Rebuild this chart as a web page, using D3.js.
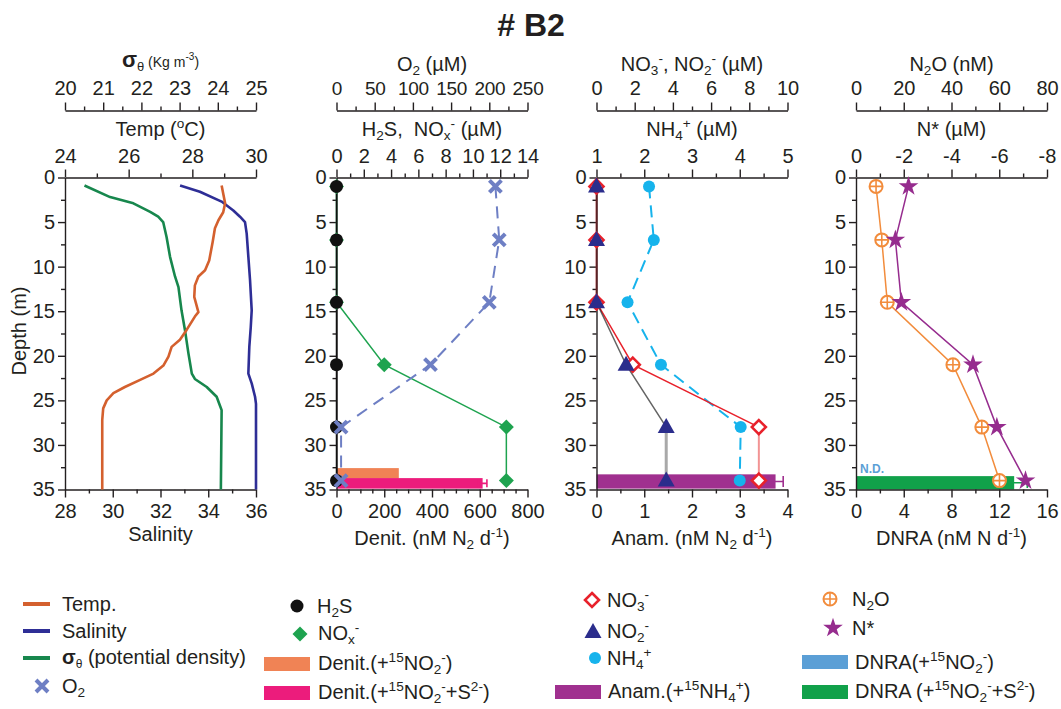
<!DOCTYPE html>
<html>
<head>
<meta charset="utf-8">
<script src="https://cdn.jsdelivr.net/npm/d3@7"></script>
<style>
  html, body { margin: 0; padding: 0; background: #fff; }
  svg { display: block; }
  text { white-space: pre; }
</style>
</head>
<body>
<svg id="chart" width="1061" height="709"></svg>
<script>
// ---- Station B2: water-column profiles ----
// Discrete sampling depths (m)
const depths = [1, 7, 14, 21, 28, 34];

// CTD profiles
const tempDepth = [0.9, 2.9, 3.9, 4.8, 5.7, 7.2, 9.3, 10.4, 11.1, 12.1, 13.4, 15.1, 15.6, 17.1, 18.2, 19.0, 20.1, 21.1, 22.0, 22.7, 23.5, 24.2, 25.0, 25.9, 27.2, 35];
const tempVal   = [28.92, 29.03, 28.97, 28.82, 28.71, 28.64, 28.53, 28.40, 28.19, 28.08, 28.06, 28.19, 28.08, 27.82, 27.61, 27.35, 27.25, 27.09, 26.78, 26.36, 25.88, 25.52, 25.31, 25.20, 25.17, 25.17];
const salDepth  = [0.9, 1.6, 2.7, 3.7, 4.4, 5.0, 6.3, 8.9, 11.5, 14.9, 16.8, 19.0, 22.0, 23.1, 24.6, 25.4, 35];
const salVal    = [32.82, 33.65, 34.56, 35.05, 35.33, 35.54, 35.61, 35.68, 35.75, 35.82, 35.78, 35.72, 35.68, 35.82, 35.96, 36.0, 36.0];
const sigDepth  = [0.9, 2.2, 2.9, 3.85, 4.4, 5.0, 6.7, 8.9, 11.1, 12.3, 14.9, 17.1, 19.7, 22.0, 22.6, 23.5, 24.6, 25.4, 26.1, 35];
const sigVal    = [20.51, 21.18, 21.79, 22.23, 22.44, 22.57, 22.66, 22.75, 22.88, 22.97, 23.05, 23.14, 23.23, 23.32, 23.40, 23.71, 23.97, 24.04, 24.10, 24.08];

// Bottle data
const o2    = [208, 213, 200, 123, 6, 6];          // µM
const h2s   = [0, 0, 0, 0, 0, 0];                  // µM
const nox   = [0, 0, 0, 3.5, 12.45, 12.45];        // µM
const no3   = [0, 0, 0, 1.9, 8.5, 8.5];            // µM
const no2   = [0, 0, 0, 1.55, 3.65, 3.65];         // µM
const nh4   = [2.1, 2.2, 1.65, 2.35, 4.02, 4.0];   // µM
const n2o   = [8.4, 10.8, 13.1, 40.6, 52.7, 60.1]; // nM
const nstar = [-2.2, -1.65, -1.9, -4.9, -5.9, -7.1]; // µM

// Incubation rates at 34 m
const denitRates = [261, 612];   // nM N2 d-1 : +15NO2-, +15NO2- +S2-
const denitErr   = [0, 18];
const anamRate   = [3.75];       // nM N2 d-1 : +15NH4+
const anamErr    = [0.16];
const dnraRate   = [13.25];      // nM N d-1 : +15NO2- +S2- (+15NO2- alone N.D.)
const dnraErr    = [1.1];

// Tick values
const depthTicks = [0, 5, 10, 15, 20, 25, 30, 35];
const sigTicks   = [20, 21, 22, 23, 24, 25];
const tempTicks  = [24, 26, 28, 30];
const salTicks   = [28, 30, 32, 34, 36];
const o2Ticks    = [0, 50, 100, 150, 200, 250];
const h2sTicks   = [0, 2, 4, 6, 8, 10, 12, 14];
const denitTicks = [0, 200, 400, 600, 800];
const nTicks     = [0, 2, 4, 6, 8, 10];
const nh4Ticks   = [1, 2, 3, 4, 5];
const anamTicks  = [0, 1, 2, 3, 4];
const n2oTicks   = [0, 20, 40, 60, 80];
const nstarTicks = [0, -2, -4, -6, -8];
const dnraTicks  = [0, 4, 8, 12, 16];

// ---- layout ----
const FONT = "'Liberation Sans', Arial, Helvetica, sans-serif";
const FS = 20;
const INK = "#231f20";
const svg = d3.select("#chart").attr("font-family", FONT);

const PW = 191;
const lefts = [65, 336.5, 596.5, 856];
const yTop1 = 110.5, yTop = 177.5, yBot = 489.5;
const y = d3.scaleLinear().domain([0, 35]).range([yTop, yBot]);

const C = {
  temp: "#d4602e", sal: "#2e2e96", sig: "#17874d",
  o2: "#6e7fc4", h2s: "#111111", nox: "#1ea34f",
  denitA: "#f08355", denitB: "#ec1c7c",
  no3: "#e8212b", no2: "#2b2d8c", nh4: "#16b3ec", anam: "#a0308f",
  n2o: "#f28c3c", nstar: "#962c8e", dnraA: "#5b9fd6", dnraB: "#11a14a"
};

function range(a, b, s) { const r = []; for (let v = a; v <= b + 1e-9; v += s) r.push(+v.toFixed(6)); return r; }
function minorOf(a, b, s, majors) { return range(a, b, s).filter(v => !majors.some(m => Math.abs(m - v) < 1e-9)); }

// Mixed text with sub/superscripts
function rich(sel, parts, fs) {
  let shift = 0;
  parts.forEach(p => {
    const s = typeof p === "string" ? { t: p } : p;
    let target = 0, size = s.size || fs;
    if (s.sub) { target = fs * 0.22; size = s.size || fs * 0.68; }
    if (s.sup) { target = -fs * 0.42; size = s.size || fs * 0.68; }
    const ts = sel.append("tspan").attr("font-size", size).text(s.t);
    if (target !== shift) ts.attr("dy", target - shift);
    if (s.bold) ts.attr("font-weight", "bold");
    shift = target;
  });
  return sel;
}

function styleAxis(g) {
  g.attr("font-size", FS).attr("font-family", FONT).style("color", INK);
  g.selectAll("path, line").attr("stroke-width", 1.4);
}

function hAxis(scale, yPos, top, majors, minors, pad) {
  const mk = top ? d3.axisTop : d3.axisBottom;
  const g = svg.append("g").attr("transform", `translate(0,${yPos})`)
    .call(mk(scale).tickValues(majors).tickSizeInner(8).tickSizeOuter(0).tickPadding(pad).tickFormat(d => String(d)));
  styleAxis(g);
  const gm = svg.append("g").attr("transform", `translate(0,${yPos})`)
    .call(mk(scale).tickValues(minors).tickSizeInner(4).tickSizeOuter(0).tickFormat(""));
  styleAxis(gm);
  gm.select(".domain").remove();
  return g;
}

function vAxis(xPos) {
  const g = svg.append("g").attr("transform", `translate(${xPos},0)`)
    .call(d3.axisLeft(y).tickValues(depthTicks).tickSizeInner(7).tickSizeOuter(0).tickPadding(3).tickFormat(d => String(d)));
  styleAxis(g);
  const gm = svg.append("g").attr("transform", `translate(${xPos},0)`)
    .call(d3.axisLeft(y).tickValues(minorOf(0, 35, 2.5, depthTicks)).tickSizeInner(4).tickSizeOuter(0).tickFormat(""));
  styleAxis(gm);
  gm.select(".domain").remove();
}

function title(cx, yBase, parts, fs) {
  rich(svg.append("text").attr("x", cx).attr("y", yBase).attr("text-anchor", "middle").attr("fill", INK), parts, fs || FS);
}

// Markers
function marker(g, type, x, yy, color) {
  const m = g.append("g").attr("transform", `translate(${x},${yy})`);
  switch (type) {
    case "dot": m.append("circle").attr("r", 6.5).attr("fill", color); break;
    case "circle": m.append("circle").attr("r", 6).attr("fill", color); break;
    case "diamond": m.append("path").attr("d", "M0,-7.5L7.5,0L0,7.5L-7.5,0Z").attr("fill", color); break;
    case "odiamond": m.append("path").attr("d", "M0,-7L7,0L0,7L-7,0Z").attr("fill", "#fff").attr("stroke", color).attr("stroke-width", 2.6); break;
    case "x": m.append("path").attr("d", "M-6,-6L6,6M-6,6L6,-6").attr("stroke", color).attr("stroke-width", 4).attr("fill", "none"); break;
    case "tri": m.append("path").attr("d", "M0,-9L8.5,6L-8.5,6Z").attr("fill", color); break;
    case "oplus":
      m.append("circle").attr("r", 6.5).attr("fill", "#fff").attr("stroke", color).attr("stroke-width", 2);
      m.append("path").attr("d", "M-6.5,0H6.5M0,-6.5V6.5").attr("stroke", color).attr("stroke-width", 1.6);
      break;
    case "star": m.append("path").attr("d", d3.symbol(d3.symbolStar, 120)()).attr("fill", color); break;
  }
}

function profileLine(xs, vals, dps) {
  return d3.line().x((d, i) => xs(vals[i])).y((d, i) => y(dps[i]))(dps);
}

function bar(xs, v, e, d0, d1, color, capColor) {
  const g = svg.append("g");
  g.append("rect").attr("x", xs(0)).attr("y", y(d0)).attr("width", xs(v) - xs(0)).attr("height", y(d1) - y(d0)).attr("fill", color);
  if (e > 0) {
    const cy = (y(d0) + y(d1)) / 2, h = (y(d1) - y(d0)) * 0.38;
    const x1 = xs(v - e), x2 = xs(v + e);
    g.append("path").attr("d", `M${x1},${cy}H${x2}M${x1},${cy - h}V${cy + h}M${x2},${cy - h}V${cy + h}`)
      .attr("stroke", capColor || color).attr("stroke-width", 1.6).attr("fill", "none");
  }
}

// ---- main title ----
svg.append("text").attr("x", 531).attr("y", 36).attr("text-anchor", "middle")
  .attr("font-size", 32).attr("font-weight", "bold").attr("fill", INK).text("# B2");

// ================= Panel 1: physical properties =================
{
  const L = lefts[0], cx = L + PW / 2;
  const xSig = d3.scaleLinear().domain([20, 25]).range([L, L + PW]);
  const xTemp = d3.scaleLinear().domain([24, 30]).range([L, L + PW]);
  const xSal = d3.scaleLinear().domain([28, 36]).range([L, L + PW]);
  hAxis(xSig, yTop1, true, sigTicks, minorOf(20, 25, 0.5, sigTicks), 7.5);
  hAxis(xTemp, yTop, true, tempTicks, minorOf(24, 30, 1, tempTicks), 7);
  hAxis(xSal, yBot, false, salTicks, minorOf(28, 36, 1, salTicks), 6);
  vAxis(L);

  title(cx, 67, [{ t: "σ", bold: true, size: 22 }, { t: "θ", sub: true, size: 13 }, { t: " (Kg m", size: 14 }, { t: "-3", sup: true, size: 10 }, { t: ")", size: 14 }], 16);
  title(cx, 136, ["Temp (", { t: "o", sup: true }, "C)"]);
  title(cx, 541, ["Salinity"]);

  const g = svg.append("g").attr("fill", "none").attr("stroke-width", 2.6).attr("stroke-linejoin", "round");
  g.append("path").attr("d", profileLine(xSig, sigVal, sigDepth)).attr("stroke", C.sig);
  g.append("path").attr("d", profileLine(xSal, salVal, salDepth)).attr("stroke", C.sal);
  g.append("path").attr("d", profileLine(xTemp, tempVal, tempDepth)).attr("stroke", C.temp);
}

// depth label
svg.append("text").attr("transform", "translate(19,331) rotate(-90)").attr("text-anchor", "middle")
  .attr("dominant-baseline", "central").attr("font-size", FS).attr("fill", INK).text("Depth (m)");

// ================= Panel 2: O2, H2S, NOx, denitrification =================
{
  const L = lefts[1], cx = L + PW / 2;
  const xO2 = d3.scaleLinear().domain([0, 250]).range([L, L + PW]);
  const xS = d3.scaleLinear().domain([0, 14]).range([L, L + PW]);
  const xD = d3.scaleLinear().domain([0, 800]).range([L, L + PW]);

  // rate bars first so profiles sit on top
  const bandD = d3.scaleBand().domain([0, 1]).range([32.6, 34.9]).paddingInner(-0.05);
  bar(xD, denitRates[0], denitErr[0], bandD(0), bandD(0) + bandD.bandwidth(), C.denitA);
  bar(xD, denitRates[1], denitErr[1], bandD(1), bandD(1) + bandD.bandwidth(), C.denitB);

  // O2 labels sit close together; keep them a touch smaller
  hAxis(xO2, yTop1, true, o2Ticks, minorOf(0, 250, 25, o2Ticks), 7.5)
    .selectAll(".tick text").attr("font-size", 19).attr("letter-spacing", -0.3);
  hAxis(xS, yTop, true, h2sTicks, minorOf(0, 14, 1, h2sTicks), 7);
  hAxis(xD, yBot, false, denitTicks, minorOf(0, 800, 50, denitTicks), 6);
  vAxis(L);

  title(cx, 71, ["O", { t: "2", sub: true }, " (µM)"]);
  title(cx, 136, ["H", { t: "2", sub: true }, "S,  NO", { t: "x", sub: true }, { t: "-", sup: true }, " (µM)"]);
  title(cx, 545, ["Denit. (nM N", { t: "2", sub: true }, " d", { t: "-1", sup: true }, ")"]);

  const g = svg.append("g").attr("fill", "none");
  g.append("path").attr("d", profileLine(xS, nox, depths)).attr("stroke", C.nox).attr("stroke-width", 1.5);
  g.append("path").attr("d", profileLine(xS, h2s, depths)).attr("stroke", C.h2s).attr("stroke-width", 1.5);
  g.append("path").attr("d", profileLine(xO2, o2, depths)).attr("stroke", C.o2).attr("stroke-width", 2).attr("stroke-dasharray", "12,8");

  const m = svg.append("g");
  depths.forEach((d, i) => marker(m, "diamond", xS(nox[i]), y(d), C.nox));
  depths.forEach((d, i) => marker(m, "dot", xS(h2s[i]), y(d), C.h2s));
  depths.forEach((d, i) => marker(m, "x", xO2(o2[i]), y(d), C.o2));
}

// ================= Panel 3: NO3, NO2, NH4, anammox =================
{
  const L = lefts[2], cx = L + PW / 2;
  const xN = d3.scaleLinear().domain([0, 10]).range([L, L + PW]);
  const xA = d3.scaleLinear().domain([1, 5]).range([L, L + PW]);
  const xR = d3.scaleLinear().domain([0, 4]).range([L, L + PW]);

  bar(xR, anamRate[0], anamErr[0], 33.3, 34.9, C.anam);

  hAxis(xN, yTop1, true, nTicks, minorOf(0, 10, 1, nTicks), 7.5);
  hAxis(xA, yTop, true, nh4Ticks, minorOf(1, 5, 0.5, nh4Ticks), 7);
  hAxis(xR, yBot, false, anamTicks, minorOf(0, 4, 0.5, anamTicks), 6);
  vAxis(L);

  title(cx, 71, ["NO", { t: "3", sub: true }, { t: "-", sup: true }, ", NO", { t: "2", sub: true }, { t: "-", sup: true }, " (µM)"]);
  title(cx, 136, ["NH", { t: "4", sub: true }, { t: "+", sup: true }, " (µM)"]);
  title(cx, 545, ["Anam. (nM N", { t: "2", sub: true }, " d", { t: "-1", sup: true }, ")"]);

  const g = svg.append("g").attr("fill", "none");
  g.append("path").attr("d", profileLine(xA, nh4, depths)).attr("stroke", C.nh4).attr("stroke-width", 2).attr("stroke-dasharray", "12,7");
  const upper = depths.slice(0, 5), lower = depths.slice(4);
  g.append("path").attr("d", profileLine(xN, no3.slice(0, 5), upper)).attr("stroke", C.no3).attr("stroke-width", 1.5);
  g.append("path").attr("d", profileLine(xN, no3.slice(4), lower)).attr("stroke", "#f29494").attr("stroke-width", 2);
  g.append("path").attr("d", profileLine(xN, no2.slice(0, 5), upper)).attr("stroke", "#222").attr("stroke-width", 1.5).attr("stroke-opacity", 0.7);
  g.append("path").attr("d", profileLine(xN, no2.slice(4), lower)).attr("stroke", "#a9a9a9").attr("stroke-width", 3);

  const m = svg.append("g");
  depths.forEach((d, i) => marker(m, "circle", xA(nh4[i]), y(d), C.nh4));
  depths.forEach((d, i) => marker(m, "odiamond", xN(no3[i]), y(d), C.no3));
  depths.forEach((d, i) => marker(m, "tri", xN(no2[i]), y(d), C.no2));
}

// ================= Panel 4: N2O, N*, DNRA =================
{
  const L = lefts[3], cx = L + PW / 2;
  const xO = d3.scaleLinear().domain([0, 80]).range([L, L + PW]);
  const xStar = d3.scaleLinear().domain([0, -8]).range([L, L + PW]);
  const xR = d3.scaleLinear().domain([0, 16]).range([L, L + PW]);

  bar(xR, dnraRate[0], dnraErr[0], 33.5, 35, C.dnraB);
  svg.append("text").attr("x", L + 4).attr("y", y(33.1)).attr("font-size", 12).attr("font-weight", "bold")
    .attr("fill", C.dnraA).text("N.D.");

  hAxis(xO, yTop1, true, n2oTicks, minorOf(0, 80, 10, n2oTicks), 7.5);
  hAxis(xStar, yTop, true, nstarTicks, [-1, -3, -5, -7], 7);
  hAxis(xR, yBot, false, dnraTicks, minorOf(0, 16, 2, dnraTicks), 6);
  vAxis(L);

  title(cx, 71, ["N", { t: "2", sub: true }, "O (nM)"]);
  title(cx, 136, ["N* (µM)"]);
  title(cx, 545, ["DNRA (nM N d", { t: "-1", sup: true }, ")"]);

  const g = svg.append("g").attr("fill", "none").attr("stroke-width", 1.5);
  g.append("path").attr("d", profileLine(xO, n2o, depths)).attr("stroke", C.n2o);
  g.append("path").attr("d", profileLine(xStar, nstar, depths)).attr("stroke", C.nstar);

  const m = svg.append("g");
  depths.forEach((d, i) => marker(m, "oplus", xO(n2o[i]), y(d), C.n2o));
  depths.forEach((d, i) => marker(m, "star", xStar(nstar[i]), y(d), C.nstar));
}

// ================= Legend =================
{
  const lg = svg.append("g").attr("font-size", FS).attr("fill", INK);
  function label(x, yy, parts) {
    rich(lg.append("text").attr("x", x).attr("y", yy).attr("dy", "0.35em"), parts, FS);
  }
  function swatchLine(x, yy, color) {
    lg.append("line").attr("x1", x).attr("x2", x + 27).attr("y1", yy).attr("y2", yy).attr("stroke", color).attr("stroke-width", 4);
  }
  function swatchRect(x, yy, color) {
    lg.append("rect").attr("x", x).attr("y", yy - 7).attr("width", 46).attr("height", 14).attr("fill", color);
  }

  // column 1
  swatchLine(23, 604, C.temp);  label(62, 604, ["Temp."]);
  swatchLine(23, 631, C.sal);   label(62, 631, ["Salinity"]);
  swatchLine(23, 658, C.sig);   label(62, 657, [{ t: "σ", bold: true }, { t: "θ", sub: true, size: 12 }, " (potential density)"]);
  marker(lg, "x", 42, 686, C.o2); label(62, 686, ["O", { t: "2", sub: true }]);

  // column 2
  marker(lg, "dot", 297, 606, C.h2s);     label(317, 606, ["H", { t: "2", sub: true }, "S"]);
  marker(lg, "diamond", 300, 634, C.nox); label(318, 633, ["NO", { t: "x", sub: true }, { t: "-", sup: true }]);
  swatchRect(264, 664, C.denitA); label(318, 663, ["Denit.(+", { t: "15", sup: true }, "NO", { t: "2", sub: true }, { t: "-", sup: true }, ")"]);
  swatchRect(264, 693, C.denitB); label(318, 692, ["Denit.(+", { t: "15", sup: true }, "NO", { t: "2", sub: true }, { t: "-", sup: true }, "+S", { t: "2-", sup: true }, ")"]);

  // column 3
  marker(lg, "odiamond", 592, 600, C.no3); label(607, 600, ["NO", { t: "3", sub: true }, { t: "-", sup: true }]);
  marker(lg, "tri", 593, 632, C.no2);      label(607, 631, ["NO", { t: "2", sub: true }, { t: "-", sup: true }]);
  marker(lg, "circle", 595, 658, C.nh4);   label(607, 658, ["NH", { t: "4", sub: true }, { t: "+", sup: true }]);
  swatchRect(555, 692, C.anam); label(608, 691, ["Anam.(+", { t: "15", sup: true }, "NH", { t: "4", sub: true }, { t: "+", sup: true }, ")"]);

  // column 4
  marker(lg, "oplus", 830, 599, C.n2o);  label(852, 599, ["N", { t: "2", sub: true }, "O"]);
  marker(lg, "star", 833, 628, C.nstar); label(852, 628, ["N*"]);
  swatchRect(802, 662, C.dnraA); label(855, 662, ["DNRA(+", { t: "15", sup: true }, "NO", { t: "2", sub: true }, { t: "-", sup: true }, ")"]);
  swatchRect(802, 692, C.dnraB); label(855, 691, ["DNRA (+", { t: "15", sup: true }, "NO", { t: "2", sub: true }, { t: "-", sup: true }, "+S", { t: "2-", sup: true }, ")"]);
}
</script>
</body>
</html>
